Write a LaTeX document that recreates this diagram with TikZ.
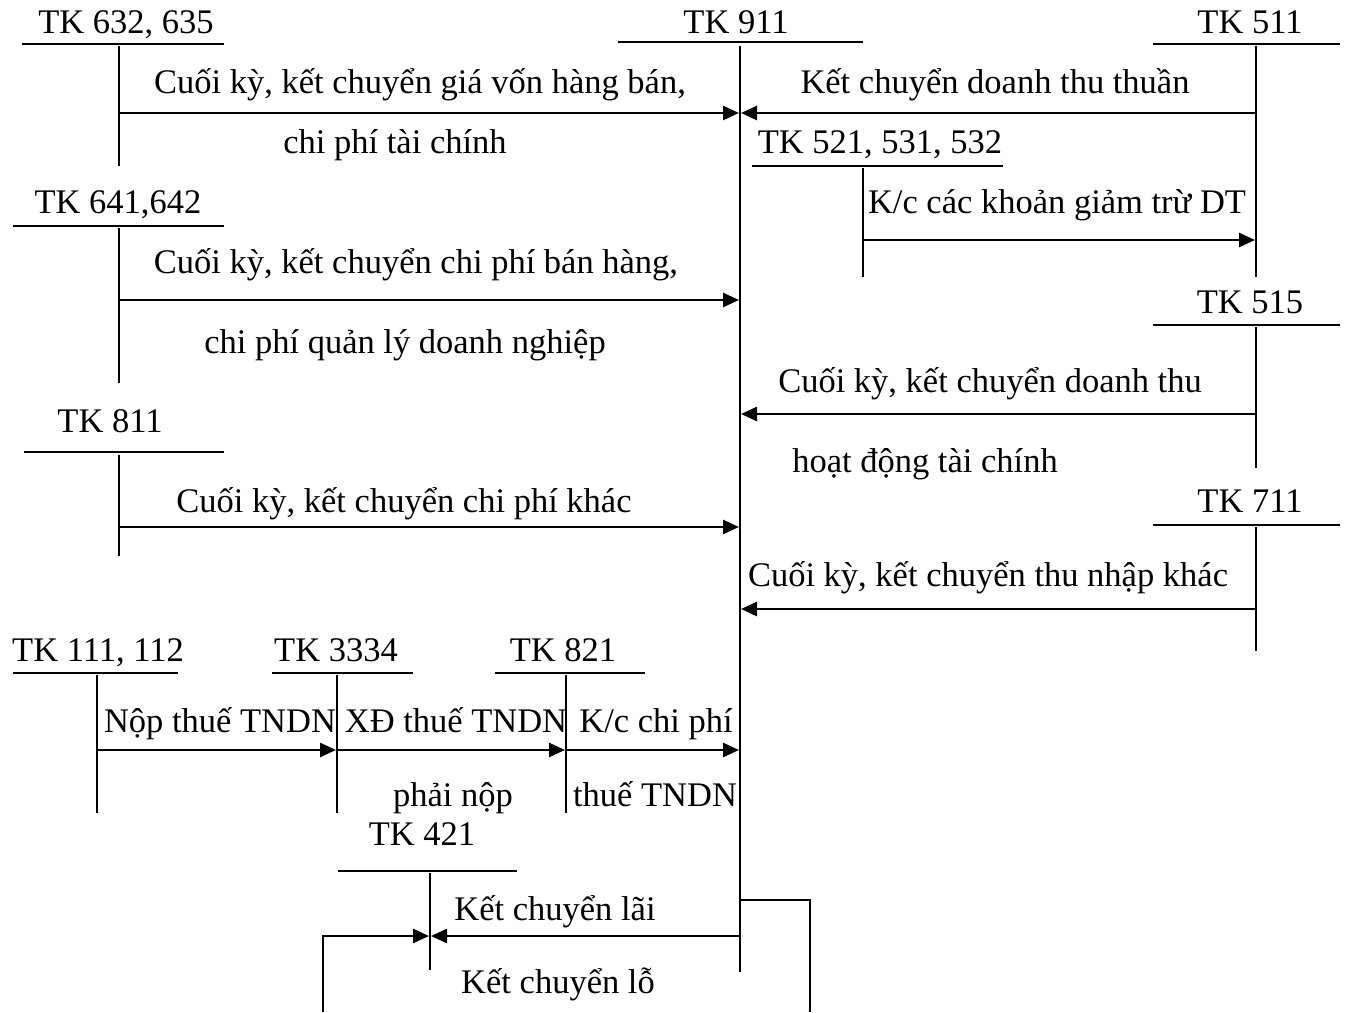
\documentclass[tikz,border=0pt]{standalone}
\usepackage{fontspec}
\setmainfont{Liberation Serif}
\usetikzlibrary{arrows.meta}
\begin{document}
\begin{tikzpicture}[x=1pt,y=-1pt,
  tline/.style={line width=1.8pt},
  flow/.style={line width=2.6pt,-{Triangle[length=16pt,width=14pt]}},
  lbl/.style={font=\fontsize{34.5}{40}\selectfont, inner sep=0pt, anchor=base}]
\useasboundingbox (0,0) rectangle (1349,1012);
% ---- T accounts: label, bar, stem
% TK 911
\node[lbl] (n911) at (736,33) {TK 911};
\draw[tline] (618,42) -- (863,42);
\coordinate (v911t) at (740,46); \coordinate (v911b) at (740,972);
\draw[tline] (v911t) -- (v911b);
% TK 632, 635
\node[lbl] (n632) at (126,33) {TK 632, 635};
\draw[tline] (22,44) -- (224,44);
\draw[tline] (119,46) -- (119,166);
% TK 511
\node[lbl] (n511) at (1250,33) {TK 511};
\draw[tline] (1153,44) -- (1340,44);
\draw[tline] (1256,46) -- (1256,277);
% TK 521
\node[lbl] (n521) at (880,153) {TK 521, 531, 532};
\draw[tline] (752,166) -- (1003,166);
\draw[tline] (863,168) -- (863,277);
% TK 641
\node[lbl] (n641) at (118,213) {TK 641,642};
\draw[tline] (13,226) -- (224,226);
\draw[tline] (119,228) -- (119,383);
% TK 515
\node[lbl] (n515) at (1250,313) {TK 515};
\draw[tline] (1153,325) -- (1340,325);
\draw[tline] (1256,327) -- (1256,468);
% TK 811
\node[lbl] (n811) at (110,432) {TK 811};
\draw[tline] (24,452) -- (224,452);
\draw[tline] (119,455) -- (119,556);
% TK 711
\node[lbl] (n711) at (1250,512) {TK 711};
\draw[tline] (1153,525) -- (1340,525);
\draw[tline] (1256,527) -- (1256,651);
% TK 111, 112
\node[lbl] (n111) at (98,661) {TK 111, 112};
\draw[tline] (13,673) -- (178,673);
\draw[tline] (97,675) -- (97,813);
% TK 3334
\node[lbl] (n3334) at (336,661) {TK 3334};
\draw[tline] (272,673) -- (413,673);
\draw[tline] (337,675) -- (337,813);
% TK 821
\node[lbl] (n821) at (563,661) {TK 821};
\draw[tline] (495,673) -- (645,673);
\draw[tline] (566,675) -- (566,813);
% TK 421
\node[lbl] (n421) at (422,845) {TK 421};
\draw[tline] (338,871) -- (517,871);
\draw[tline] (430,873) -- (430,970);

% ---- connectors
\coordinate (a1s) at (119,113); \coordinate (a1e) at (739,113);
\draw[flow] (a1s) -- (a1e);
\coordinate (a2s) at (1256,113); \coordinate (a2e) at (741,113);
\draw[flow] (a2s) -- (a2e);
\coordinate (a3s) at (863,240); \coordinate (a3e) at (1255,240);
\draw[flow] (a3s) -- (a3e);
\coordinate (a4s) at (119,300); \coordinate (a4e) at (739,300);
\draw[flow] (a4s) -- (a4e);
\coordinate (a5s) at (1256,414); \coordinate (a5e) at (741,414);
\draw[flow] (a5s) -- (a5e);
\coordinate (a6s) at (119,527); \coordinate (a6e) at (739,527);
\draw[flow] (a6s) -- (a6e);
\coordinate (a7s) at (1256,609); \coordinate (a7e) at (741,609);
\draw[flow] (a7s) -- (a7e);
\coordinate (b1s) at (97,750); \coordinate (b1e) at (336,750);
\draw[flow] (b1s) -- (b1e);
\coordinate (b2s) at (337,750); \coordinate (b2e) at (565,750);
\draw[flow] (b2s) -- (b2e);
\coordinate (b3s) at (566,750); \coordinate (b3e) at (739,750);
\draw[flow] (b3s) -- (b3e);
\coordinate (c1s) at (740,936); \coordinate (c1e) at (431,936);
\draw[flow] (c1s) -- (c1e);
\coordinate (c2s) at (323,1012); \coordinate (c2e) at (429,936);
\draw[flow] (c2s) |- (c2e);
\coordinate (c3s) at (740,900); \coordinate (c3e) at (810,1012);
\draw[line width=2.2pt] (c3s) -| (c3e);

% ---- texts
\node[lbl] (t1) at (420,93) {Cuối kỳ, kết chuyển giá vốn hàng bán,};
\node[lbl] (t1b) at (395,153) {chi phí tài chính};
\node[lbl] (t2) at (995,93) {Kết chuyển doanh thu thuần};
\node[lbl] (t3) at (1057,213) {K/c các khoản giảm trừ DT};
\node[lbl] (t4) at (416,273) {Cuối kỳ, kết chuyển chi phí bán hàng,};
\node[lbl] (t4b) at (405,353) {chi phí quản lý doanh nghiệp};
\node[lbl] (t5) at (990,392) {Cuối kỳ, kết chuyển doanh thu};
\node[lbl] (t5b) at (925,472) {hoạt động tài chính};
\node[lbl] (t6) at (404,512) {Cuối kỳ, kết chuyển chi phí khác};
\node[lbl] (t7) at (988,586) {Cuối kỳ, kết chuyển thu nhập khác};
\node[lbl] (t8) at (220,732) {Nộp thuế TNDN};
\node[lbl] (t9) at (456,732) {XĐ thuế TNDN};
\node[lbl] (t10) at (656,732) {K/c chi phí};
\node[lbl] (t9b) at (453,806) {phải nộp};
\node[lbl] (t10b) at (655,806) {thuế TNDN};
\node[lbl] (t11) at (555,920) {Kết chuyển lãi};
\node[lbl] (t12) at (558,993) {Kết chuyển lỗ};
\end{tikzpicture}
\end{document}
